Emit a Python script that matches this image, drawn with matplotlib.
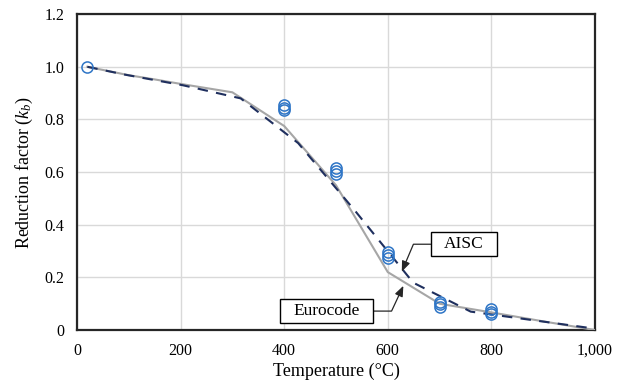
import matplotlib
matplotlib.use("Agg")
import matplotlib.pyplot as plt
from matplotlib.ticker import FuncFormatter, MultipleLocator
from matplotlib.path import Path

plt.rcParams['font.family'] = ['Liberation Serif', 'DejaVu Serif']
plt.rcParams['mathtext.fontset'] = 'custom'
plt.rcParams['mathtext.rm'] = 'Liberation Serif'
plt.rcParams['mathtext.it'] = 'Liberation Serif:italic'

# Eurocode reduction factor (solid grey)
ec_temp = [20, 100, 150, 200, 300, 400, 500, 600, 700, 800, 900, 1000]
ec_kb = [1.0, 0.968, 0.952, 0.935, 0.903, 0.775, 0.55, 0.22, 0.10, 0.067, 0.033, 0.0]

# AISC reduction factor (dashed navy)
aisc_temp = [20, 93, 204, 316, 427, 538, 649, 760, 871, 982, 1000]
aisc_kb = [1.0, 0.97, 0.93, 0.88, 0.71, 0.45, 0.18, 0.07, 0.04, 0.01, 0.008]

# Test data (open circles)
test_temp = [20, 400, 400, 400, 500, 500, 500, 600, 600, 600, 700, 700, 700, 800, 800, 800]
test_kb = [1.0, 0.835, 0.845, 0.855, 0.594, 0.606, 0.616, 0.273, 0.286, 0.298,
           0.089, 0.099, 0.108, 0.062, 0.070, 0.079]


def rect_box(x0, y0, width, height, mutation_size):
    """Square box with separate horizontal / vertical padding."""
    px = 0.75 * mutation_size
    py = 0.22 * mutation_size
    x0, y0 = x0 - px, y0 - py
    x1, y1 = x0 + width + 2 * px, y0 + height + 2 * py
    return Path([(x0, y0), (x1, y0), (x1, y1), (x0, y1), (x0, y0)], closed=True)


fig = plt.figure(figsize=(6.26, 3.82), dpi=100)
ax = fig.add_axes([0.123, 0.136, 0.8275, 0.827])

ax.plot(ec_temp, ec_kb, color='#a6a6a6', lw=1.5, zorder=3)
ax.plot(aisc_temp, aisc_kb, color='#1f2f5e', lw=1.5, ls=(0, (5, 4)), zorder=4)
ax.plot(test_temp, test_kb, ls='none', marker='o', ms=8, mfc='none',
        mec='#2e75c6', mew=1.1, zorder=5)

ax.set_xlim(0, 1000)
ax.set_ylim(0, 1.2)
ax.xaxis.set_major_locator(MultipleLocator(200))
ax.yaxis.set_major_locator(MultipleLocator(0.2))
ax.xaxis.set_major_formatter(FuncFormatter(lambda v, p: f"{int(round(v)):,}"))
ax.yaxis.set_major_formatter(FuncFormatter(lambda v, p: "0" if abs(v) < 1e-9 else f"{v:.1f}"))
ax.grid(True, color='#d9d9d9', lw=1.0, zorder=0)
ax.set_axisbelow(True)
ax.tick_params(length=0, labelsize=11.5, colors='black')
ax.tick_params(axis='x', pad=9)
ax.tick_params(axis='y', pad=9)
for s in ax.spines.values():
    s.set_linewidth(1.6)
    s.set_color('#262626')

ax.set_xlabel('Temperature (°C)', fontsize=13, labelpad=3)
ax.set_ylabel(r'Reduction factor ($k_b$)', fontsize=13, labelpad=7)

box = dict(boxstyle=rect_box, fc='white', ec='black', lw=1.0)
ax.annotate('AISC', xy=(627, 0.222), xytext=(747, 0.326), fontsize=12.5,
            ha='center', va='center', bbox=box, zorder=6,
            arrowprops=dict(arrowstyle='-|>,head_length=0.5,head_width=0.2', color='#262626', lw=0.9,
                            connectionstyle='angle,angleA=0,angleB=67,rad=0',
                            shrinkA=0, shrinkB=0))
ax.annotate('Eurocode', xy=(630, 0.168), xytext=(482, 0.072), fontsize=12.5,
            ha='center', va='center', bbox=box, zorder=6,
            arrowprops=dict(arrowstyle='-|>,head_length=0.5,head_width=0.2', color='#262626', lw=0.9,
                            connectionstyle='angle,angleA=0,angleB=65,rad=0',
                            shrinkA=0, shrinkB=0))

fig.savefig('out.png', dpi=100)
